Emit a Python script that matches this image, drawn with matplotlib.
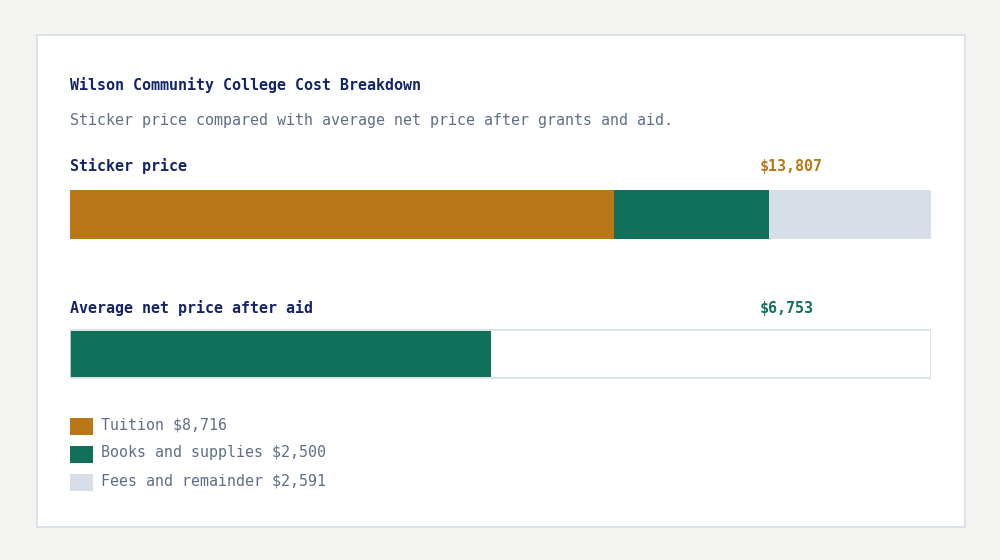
import matplotlib
matplotlib.use('Agg')
import matplotlib.pyplot as plt
import matplotlib.patches as mpatches

plt.rcParams['font.family'] = ['DejaVu Sans Mono']

# ── data ──
title = 'Wilson Community College Cost Breakdown'
subtitle = 'Sticker price compared with average net price after grants and aid.'
components = ['Tuition', 'Books and supplies', 'Fees and remainder']
amounts = [8716, 2500, 2591]
net_price = 6753
row_labels = ['Sticker price', 'Average net price after aid']

# ── colours ──
BG = '#f3f3f2'
CARD_EDGE = '#d6dde7'
NAVY = '#14246a'
GRAY = '#5e6e88'
comp_colors = ['#b97718', '#10705a', '#d7dee8']
sticker = sum(amounts)

fig = plt.figure(figsize=(10, 5.6), dpi=100, facecolor=BG)

# background layer in pixel coords
bg = fig.add_axes([0, 0, 1, 1])
bg.set_xlim(0, 1000)
bg.set_ylim(560, 0)
bg.axis('off')
bg.add_patch(mpatches.Rectangle((36.5, 34.5), 928, 492, facecolor='white',
                                edgecolor=CARD_EDGE, linewidth=1.2))

bg.text(70, 90, title, color=NAVY, fontsize=10.8, fontweight='bold', va='baseline')
bg.text(70, 125, subtitle, color=GRAY, fontsize=10.8, va='baseline')
bg.text(70, 171, row_labels[0], color=NAVY, fontsize=10.8, fontweight='bold', va='baseline')
bg.text(70, 313, row_labels[1], color=NAVY, fontsize=10.8, fontweight='bold', va='baseline')
bg.text(760, 171, f'${sticker:,}', color=comp_colors[0], fontsize=10.8,
        fontweight='bold', va='baseline')
bg.text(760, 313, f'${net_price:,}', color=comp_colors[1], fontsize=10.8,
        fontweight='bold', va='baseline')

# legend
for i, (name, amt, col) in enumerate(zip(components, amounts, comp_colors)):
    y = 418 + i * 28
    bg.add_patch(mpatches.Rectangle((70, y), 23, 17, facecolor=col, edgecolor='none'))
    bg.text(101, 429 + i * 28, f'{name} ${amt:,}', color=GRAY, fontsize=10.8, va='baseline')

# ── bars, in dollar scale ──
ax = fig.add_axes([70 / 1000, (560 - 378.5) / 560, 861 / 1000, 188.5 / 560])
ax.set_xlim(0, sticker)
ax.set_ylim(378.5, 190)
ax.axis('off')
ax.patch.set_alpha(0)

left = 0
for amt, col in zip(amounts, comp_colors):
    ax.barh(214.5, amt, left=left, height=49, color=col, edgecolor='none')
    left += amt

# net price track: white fill, green value, outline on top
ax.barh(354.5, sticker, height=48, color='white', edgecolor='none')
ax.barh(354.5, net_price, height=46, color=comp_colors[1], edgecolor='none')
ax.barh(354.5, sticker, height=48, color='none', edgecolor=CARD_EDGE, linewidth=1.2)

plt.savefig('out.png', dpi=100, facecolor=BG)
